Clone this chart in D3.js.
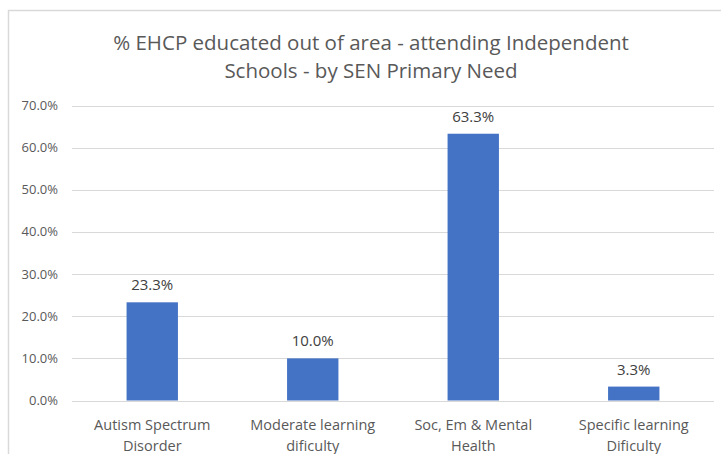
<!DOCTYPE html>
<html>
<head>
<meta charset="utf-8">
<script src="https://cdn.jsdelivr.net/npm/d3@7"></script>
<style>
  body { margin: 0; background: #fff; }
  text { font-family: "Open Sans", "Liberation Sans", sans-serif; }
</style>
</head>
<body>
<div id="chart"></div>
<script>
// data
var categories = [
  ["Autism Spectrum", "Disorder"],
  ["Moderate learning", "dificulty"],
  ["Soc, Em & Mental", "Health"],
  ["Specific learning", "Dificulty"]
];
var values = [23.3, 10.0, 63.3, 3.3];
var yTicks = [0, 10, 20, 30, 40, 50, 60, 70];
var titleLines = ["% EHCP educated out of area - attending Independent", "Schools - by SEN Primary Need"];

var width = 721, height = 454;

var svg = d3.select("#chart").append("svg")
  .attr("width", width)
  .attr("height", height);

// chart frame (left + top edges visible in the crop)
svg.append("path")
  .attr("d", "M8.5,454 L8.5,10.5 L721,10.5")
  .attr("fill", "none")
  .attr("stroke", "#d9d9d9")
  .attr("stroke-width", 1.5);

var y = d3.scaleLinear().domain([0, 70]).range([400.5, 105.5]);
var x = d3.scaleBand()
  .domain(d3.range(categories.length))
  .range([72, 714])
  .paddingInner(0.68)
  .paddingOuter(0.34);

// title
svg.append("text")
  .attr("x", 371)
  .attr("y", 50)
  .attr("text-anchor", "middle")
  .attr("fill", "#595959")
  .style("font-size", "20.5px")
  .selectAll("tspan")
  .data(titleLines)
  .enter()
  .append("tspan")
  .attr("x", 371)
  .attr("dy", function (d, i) { return i ? 28 : 0; })
  .text(function (d) { return d; });

// gridlines
svg.append("g")
  .selectAll("line")
  .data(yTicks)
  .enter()
  .append("line")
  .attr("x1", 72)
  .attr("x2", 714)
  .attr("y1", function (d) { return Math.round(y(d)) + 0.5; })
  .attr("y2", function (d) { return Math.round(y(d)) + 0.5; })
  .attr("stroke", "#d9d9d9")
  .attr("stroke-width", 1);

// y tick labels
svg.append("g")
  .selectAll("text")
  .data(yTicks)
  .enter()
  .append("text")
  .attr("x", 58)
  .attr("y", function (d) { return y(d) + 4.5; })
  .attr("text-anchor", "end")
  .attr("fill", "#595959")
  .style("font-size", "13px")
  .text(function (d) { return d.toFixed(1) + "%"; });

// bars
svg.append("g")
  .selectAll("rect")
  .data(values)
  .enter()
  .append("rect")
  .attr("x", function (d, i) { return x(i); })
  .attr("width", x.bandwidth())
  .attr("y", function (d) { return y(d); })
  .attr("height", function (d) { return y(0) - y(d); })
  .attr("fill", "#4472c4");

// value labels
svg.append("g")
  .selectAll("text")
  .data(values)
  .enter()
  .append("text")
  .attr("x", function (d, i) { return x(i) + x.bandwidth() / 2; })
  .attr("y", function (d) { return y(d) - 12; })
  .attr("text-anchor", "middle")
  .attr("fill", "#404040")
  .style("font-size", "15px")
  .text(function (d) { return d.toFixed(1) + "%"; });

// category labels
var cat = svg.append("g")
  .selectAll("text")
  .data(categories)
  .enter()
  .append("text")
  .attr("text-anchor", "middle")
  .attr("fill", "#595959")
  .style("font-size", "14.5px");

cat.selectAll("tspan")
  .data(function (d, i) { return d.map(function (t) { return { t: t, i: i }; }); })
  .enter()
  .append("tspan")
  .attr("x", function (d) { return x(d.i) + x.bandwidth() / 2; })
  .attr("y", function (d, j) { return 430 + j * 21; })
  .text(function (d) { return d.t; });
</script>
</body>
</html>
